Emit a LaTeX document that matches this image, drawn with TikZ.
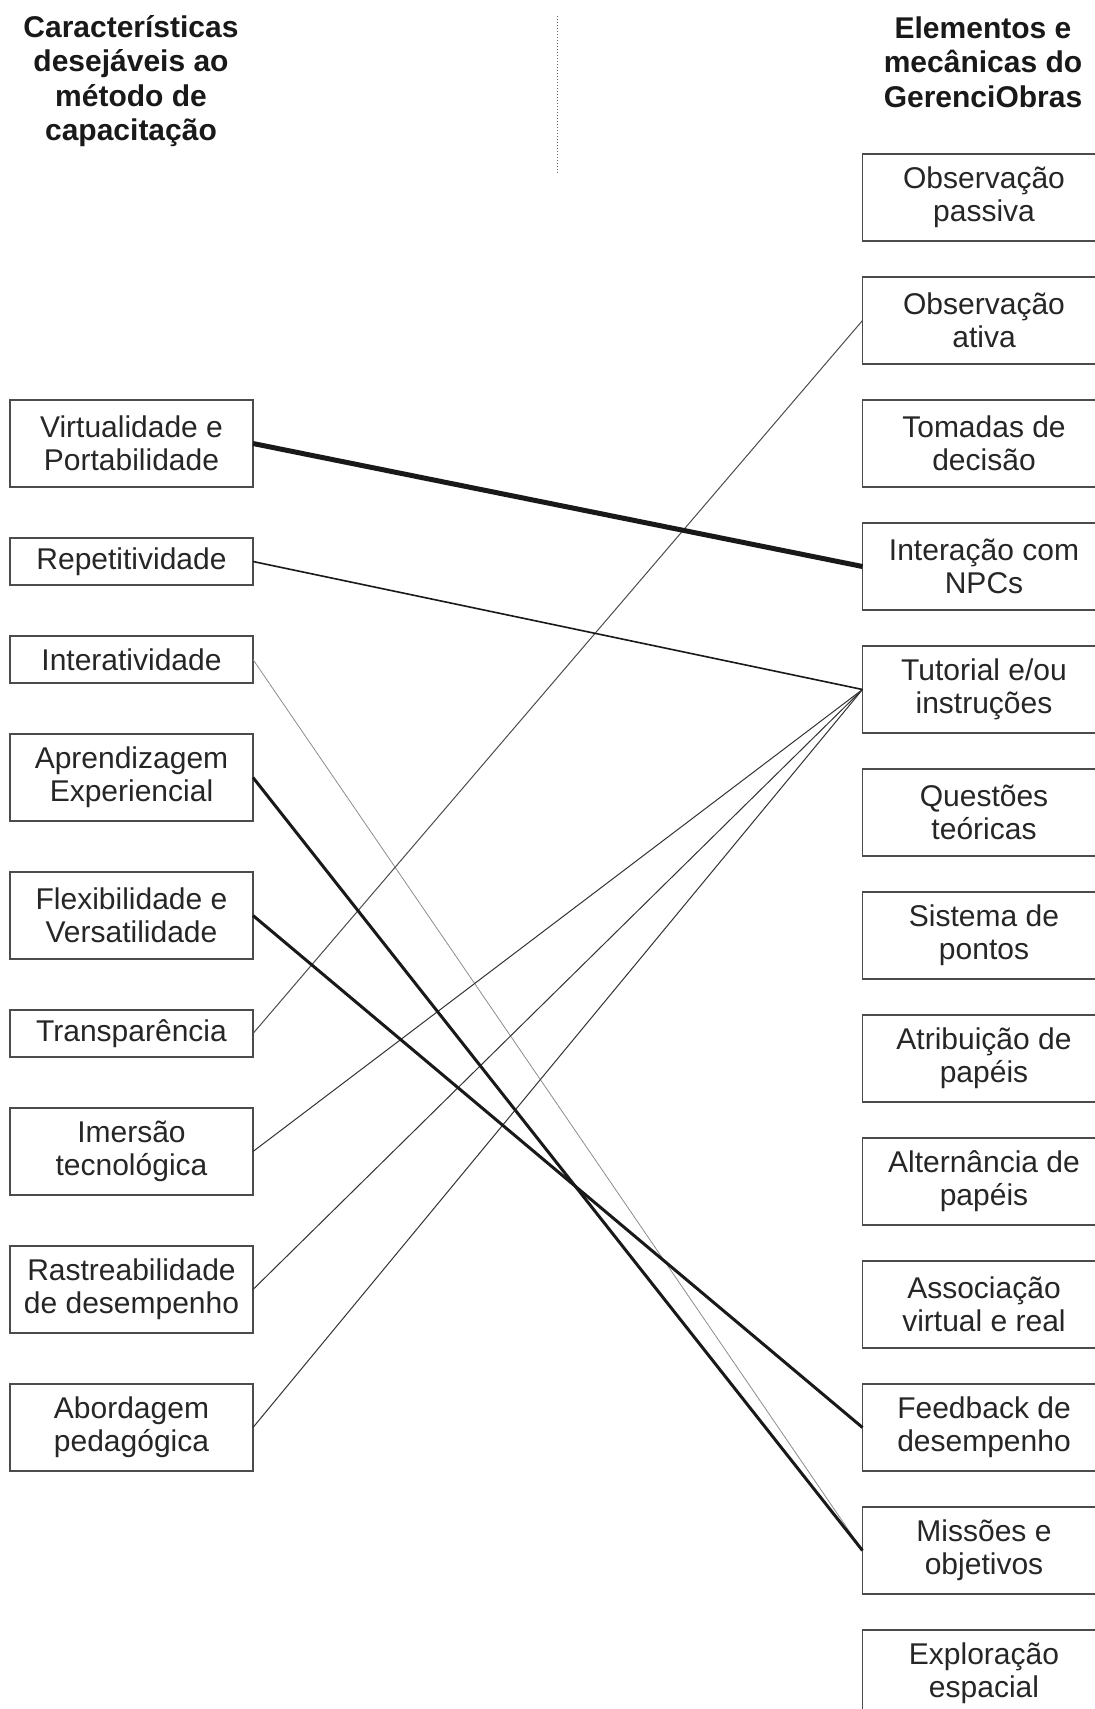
\documentclass[tikz,border=0pt]{standalone}
\usepackage{fontspec}
\setmainfont{Liberation Sans}
\usetikzlibrary{positioning}

\tikzset{
    box/.style={draw=black!70, line width=1.5pt, fill=white, text=black!85,
        minimum width=243pt, inner sep=0pt, outer sep=0pt, align=center,
        font=\fontsize{30}{33}\selectfont},
    twoline/.style={box, minimum height=87pt},
    oneline/.style={box, minimum height=47pt},
    head/.style={align=center, text=black!90,
        font=\fontsize{30}{34.5}\selectfont\bfseries},
}

\begin{document}
\begin{tikzpicture}[x=1pt, y=-1pt]
    \useasboundingbox (0,0) rectangle (1095,1709);

    \node[head](hleft) at (131,81){Características\\desejáveis ao\\método de\\capacitação};
    \node[head](hright) at (983,62){Elementos e\\mecânicas do\\GerenciObras};
    \coordinate(sep1) at (557,16);
    \coordinate(sep2) at (557,174);
    \draw[black!60, dotted, line width=1pt](sep1) -- (sep2);

    % left column
    \node[twoline](virt) at (131.5,443.5){Virtualidade e\\Portabilidade};
    \node[oneline](rep)[below=51pt of virt]{Repetitividade};
    \node[oneline](inter)[below=51pt of rep]{Interatividade};
    \node[twoline](apr)[below=51pt of inter]{Aprendizagem\\Experiencial};
    \node[twoline](flex)[below=51pt of apr]{Flexibilidade e\\Versatilidade};
    \node[oneline](transp)[below=51pt of flex]{Transparência};
    \node[twoline](imers)[below=51pt of transp]{Imersão\\tecnológica};
    \node[twoline](rast)[below=51pt of imers]{Rastreabilidade\\de desempenho};
    \node[twoline](abord)[below=51pt of rast]{Abordagem\\pedagógica};

    % right column
    \node[twoline](passiva) at (984,197.5){Observação\\passiva};
    \node[twoline](ativa)[below=36pt of passiva]{Observação\\ativa};
    \node[twoline](tomadas)[below=36pt of ativa]{Tomadas de\\decisão};
    \node[twoline](npcs)[below=36pt of tomadas]{Interação com\\NPCs};
    \node[twoline](tutorial)[below=36pt of npcs]{Tutorial e/ou\\instruções};
    \node[twoline](questoes)[below=36pt of tutorial]{Questões\\teóricas};
    \node[twoline](pontos)[below=36pt of questoes]{Sistema de\\pontos};
    \node[twoline](atrib)[below=36pt of pontos]{Atribuição de\\papéis};
    \node[twoline](altern)[below=36pt of atrib]{Alternância de\\papéis};
    \node[twoline](assoc)[below=36pt of altern]{Associação\\virtual e real};
    \node[twoline](feedback)[below=36pt of assoc]{Feedback de\\desempenho};
    \node[twoline](missoes)[below=36pt of feedback]{Missões e\\objetivos};
    \node[twoline](explor)[below=36pt of missoes]{Exploração\\espacial};

    % links
    \draw[black!45, line width=0.8pt](inter.east) -- (missoes.west);
    \draw[black!70, line width=1pt](transp.east) -- (ativa.west);
    \draw[black!80, line width=1pt](imers.east) -- (tutorial.west);
    \draw[black!80, line width=1pt](rast.east) -- (tutorial.west);
    \draw[black!80, line width=1pt](abord.east) -- (tutorial.west);
    \draw[black!90, line width=1.6pt](rep.east) -- (tutorial.west);
    \draw[black!90, line width=3pt](apr.east) -- (missoes.west);
    \draw[black!90, line width=3pt](flex.east) -- (feedback.west);
    \draw[black!90, line width=5pt](virt.east) -- (npcs.west);
\end{tikzpicture}
\end{document}
